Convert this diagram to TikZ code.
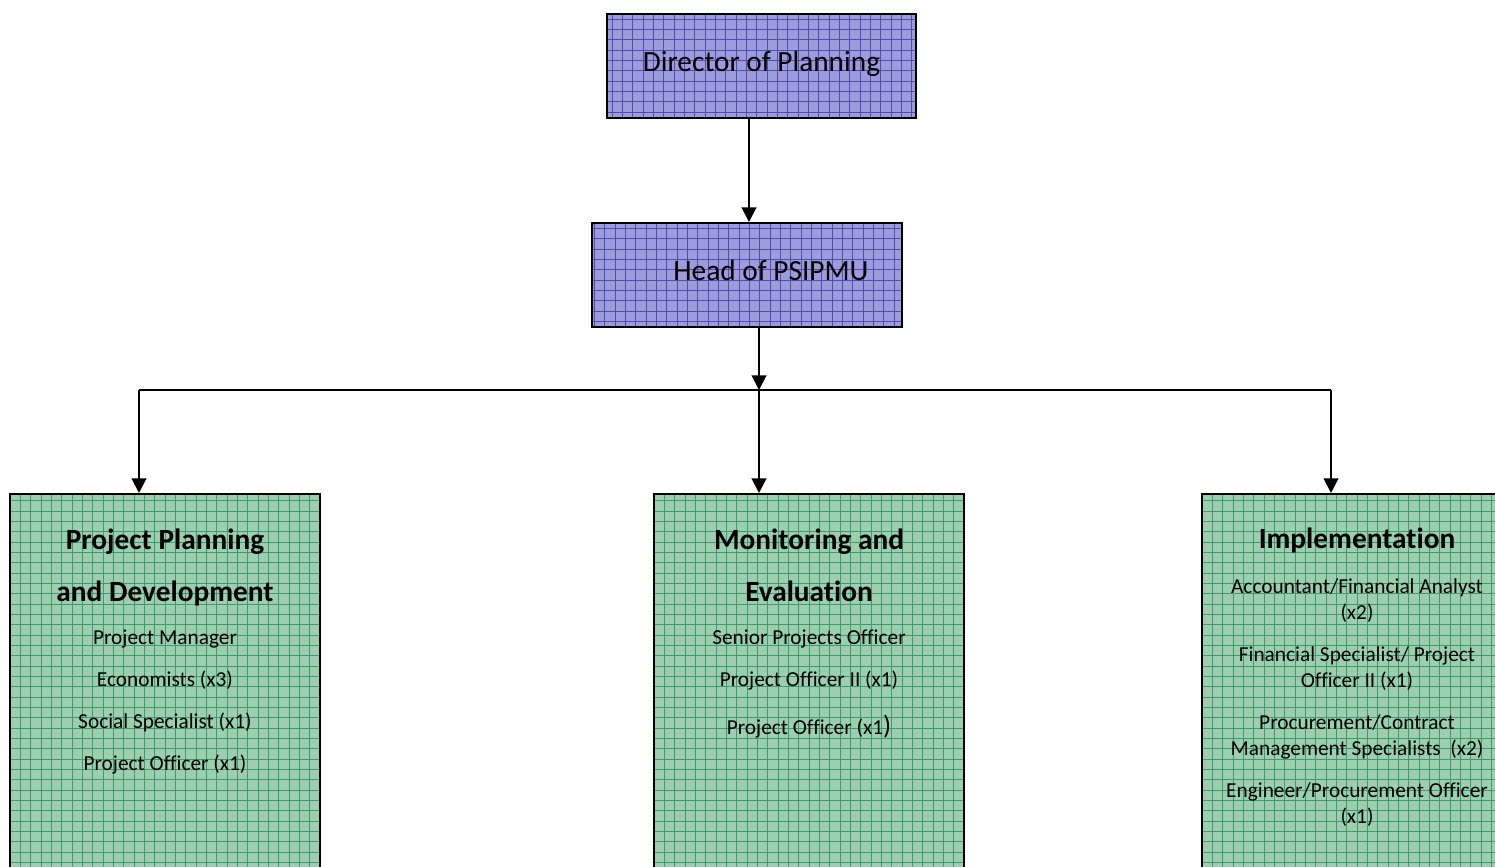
\documentclass[tikz,border=0pt]{standalone}
\usepackage{fontspec}
\setmainfont{Carlito}[Ligatures=NoCommon]
\usepackage{tikz}
\usetikzlibrary{arrows.meta,positioning,calc}
\definecolor{dirblue}{HTML}{9C9CDC}
\definecolor{dirgrid}{HTML}{4E4EAE}
\definecolor{unitgreen}{HTML}{9CCEAF}
\definecolor{unitgrid}{HTML}{3D9C6D}
\tikzset{
  gridfill/.style={path picture={
      \draw[#1, line width=0.45pt] (path picture bounding box.south west)
        grid[step=7.75pt] (path picture bounding box.north east);}},
  office/.style={rectangle, draw=black, line width=1.5pt, fill=dirblue, gridfill=dirgrid,
    minimum width=232pt, minimum height=78pt, inner sep=0pt, font=\fontsize{22}{26}\selectfont},
  unit/.style={rectangle, draw=black, line width=1.5pt, fill=unitgreen, gridfill=unitgrid,
    minimum width=232.5pt, minimum height=320pt, inner sep=0pt, anchor=north},
  unithead/.style={align=center, inner sep=0pt, font=\fontsize{22}{39}\selectfont\bfseries},
  unitlist/.style={align=center, inner sep=0pt, font=\fontsize{16}{19.5}\selectfont},
  flow/.style={-{Triangle[length=11pt,width=11pt]}, line width=1.5pt},
  conn/.style={line width=1.5pt},
}
\begin{document}
\begin{tikzpicture}[x=0.75pt, y=-0.75pt]
\useasboundingbox (0,0) rectangle (1495,867);
\clip (0,0) rectangle (1495,867);

% top of the chart
\node[office] (dir) at (761.5,66) {\raisebox{7pt}{Director of Planning}};
\node[office] (head) at (747,275) {\hspace*{36pt}\raisebox{7.5pt}{Head of PSIPMU}};

% the three units
\node[unit] (ppd) at (165,493) {};
\node[unit] (me) at (809,493) {};
\node[unit] (impl) at (1357,493) {};

\node[unithead] (ppdhead) at (165,568) {Project Planning\\and Development};
\node[unitlist] (ppdlist) at (165,702) {Project Manager\\[12pt]Economists (x3)\\[12pt]Social Specialist (x1)\\[12pt]Project Officer (x1)};

\node[unithead] (mehead) at (809,565) {Monitoring and\\Evaluation};
\node[unitlist] (melist) at (809,684) {Senior Projects Officer\\[12pt]Project Officer II (x1)\\[16pt]Project Officer (x1{\fontsize{20}{20}\selectfont)}};

\node[unithead] (implhead) at (1357,541) {Implementation};
\node[unitlist] (impllist) at (1357,703) {Accountant/Financial Analyst\\(x2)\\[12pt]Financial Specialist/ Project\\Officer II (x1)\\[12pt]Procurement/Contract\\Management Specialists~ (x2)\\[12pt]Engineer/Procurement Officer\\(x1)};

% connectors
\coordinate (dirout) at ($(dir.south)+(-12.5,0)$);
\coordinate (headout) at ($(head.south)+(12,0)$);
\coordinate (bus) at ($(headout)+(0,62)$);
\coordinate (ppdin) at ($(ppd.north)+(-26,0)$);
\coordinate (mein) at ($(me.north)+(-50,0)$);
\coordinate (implin) at ($(impl.north)+(-26,0)$);

\draw[flow] (dirout) -- (dirout |- head.north);
\draw[flow] (headout) -- (bus);
\draw[conn] (ppdin |- bus) -- (implin |- bus);
\draw[flow] (ppdin |- bus) -- (ppdin);
\draw[flow] (mein |- bus) -- (mein);
\draw[flow] (implin |- bus) -- (implin);
\end{tikzpicture}
\end{document}
